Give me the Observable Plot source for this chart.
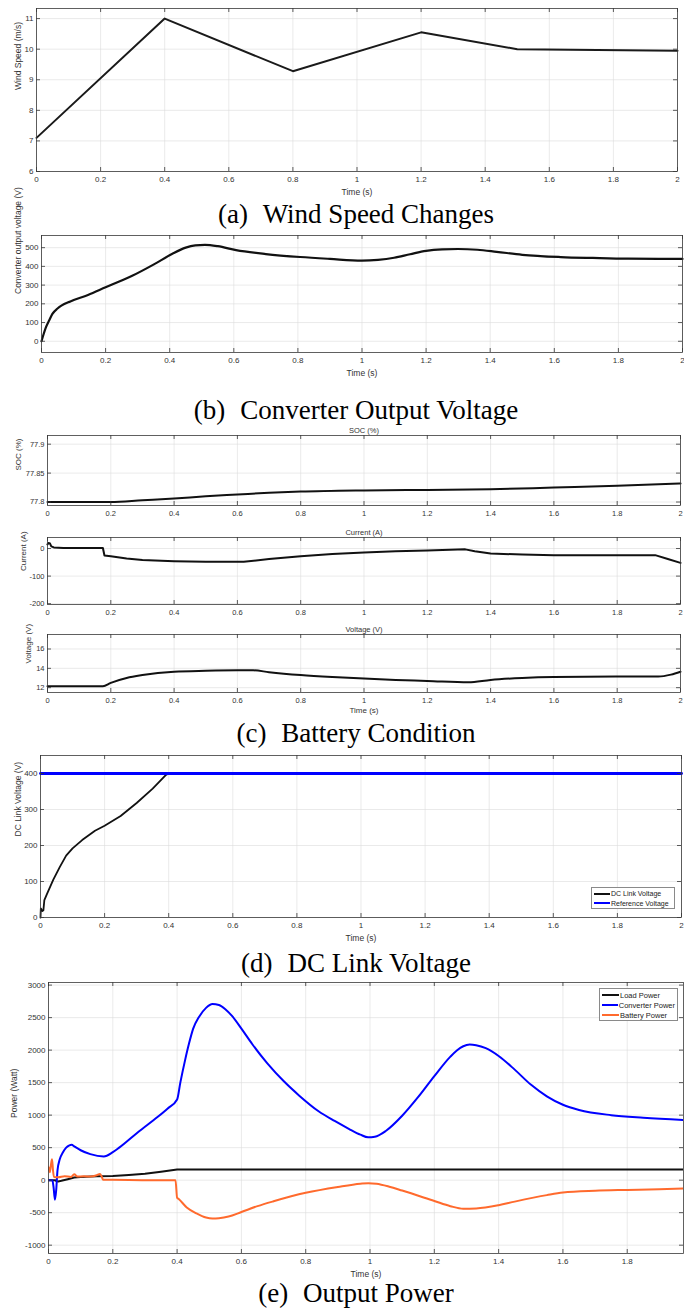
<!DOCTYPE html>
<html>
<head>
<meta charset="utf-8">
<script src="https://cdn.jsdelivr.net/npm/d3@7"></script>
<script src="https://cdn.jsdelivr.net/npm/@observablehq/plot@0.6"></script>
<style>
  body { margin: 0; background: #fff; }
  #page { position: relative; width: 684px; height: 1310px; overflow: hidden; background: #fff; }
  .panel { position: absolute; left: 0; }
  .cap { position: absolute; left: 0; width: 712px; text-align: center; font-family: "Liberation Serif", "Times New Roman", serif; font-size: 27px; line-height: 27px; color: #000; white-space: pre; }
  .cap .tag { display: inline-block; margin-right: 0.55em; }
  .legend { position: absolute; background: #fff; border: 0.8px solid #8a8a8a; font-family: "Liberation Sans", Arial, sans-serif; color: #222; box-sizing: border-box; }
  .legend .row { display: flex; align-items: center; white-space: nowrap; }
</style>
</head>
<body>
<div id="page"></div>
<script>
// ---------------- DATA ----------------
const timeTicks = [0, 0.2, 0.4, 0.6, 0.8, 1, 1.2, 1.4, 1.6, 1.8, 2];
const timeTicksE = [0, 0.2, 0.4, 0.6, 0.8, 1, 1.2, 1.4, 1.6, 1.8];

// (a) Wind speed
const windTime = [0, 0.4, 0.8, 1.2, 1.5, 2.0];
const windSpeed = [7.1, 11.0, 9.28, 10.55, 10.0, 9.95];
const windTicks = [6, 7, 8, 9, 10, 11];

// (b) Converter output voltage
const convTime = [0, 0.007, 0.014, 0.025, 0.034, 0.05, 0.062, 0.09, 0.145, 0.2, 0.25, 0.283, 0.352, 0.407, 0.45, 0.48, 0.51, 0.55, 0.607, 0.7, 0.807, 0.9, 1.0, 1.05, 1.1, 1.15, 1.2, 1.25, 1.3, 1.36, 1.42, 1.5, 1.62, 1.72, 1.83, 2.0];
const convVolt = [0, 40, 75, 115, 146, 175, 190, 213, 247, 288, 325, 350, 412, 466, 500, 512, 515, 508, 487, 466, 450, 440, 431, 435, 446, 465, 483, 491, 493, 489, 478, 462, 450, 445, 441, 440];
const convTicks = [0, 100, 200, 300, 400, 500];

// (c) Battery condition
const socTime = [0, 0.2, 0.3, 0.4, 0.5, 0.6, 0.7, 0.8, 1.0, 1.2, 1.4, 1.6, 1.8, 2.0];
const socValue = [77.8, 77.8, 77.803, 77.806, 77.81, 77.813, 77.816, 77.818, 77.82, 77.821, 77.822, 77.825, 77.828, 77.832];
const socTicks = [77.8, 77.85, 77.9];

const curTime = [0, 0.003, 0.008, 0.012, 0.02, 0.05, 0.1, 0.175, 0.18, 0.2, 0.25, 0.3, 0.4, 0.5, 0.62, 0.7, 0.8, 0.9, 1.0, 1.1, 1.2, 1.32, 1.35, 1.4, 1.5, 1.6, 1.8, 1.92, 1.96, 2.0];
const curValue = [15, 20, 18, 8, 4, 2, 2, 2, -25, -28, -36, -42, -46, -48, -48, -38, -28, -20, -14, -10, -7, -3, -10, -18, -22, -24, -24, -24, -38, -52];
const curTicks = [-200, -100, 0];

const batVTime = [0, 0.175, 0.2, 0.25, 0.3, 0.4, 0.5, 0.6, 0.65, 0.7, 0.8, 0.9, 1.0, 1.1, 1.2, 1.33, 1.4, 1.5, 1.6, 1.8, 1.93, 1.97, 2.0];
const batVValue = [12.15, 12.15, 12.5, 13.0, 13.3, 13.65, 13.75, 13.8, 13.8, 13.6, 13.3, 13.1, 12.95, 12.8, 12.7, 12.55, 12.8, 13.0, 13.1, 13.15, 13.15, 13.35, 13.65];
const batVTicks = [12, 14, 16];

// (d) DC link voltage
const dcTime = [0, 0.001, 0.003, 0.006, 0.009, 0.012, 0.02, 0.04, 0.06, 0.08, 0.1, 0.13, 0.17, 0.2, 0.25, 0.3, 0.35, 0.39, 0.4, 2.0];
const dcValue = [0, 25, 22, 18, 20, 48, 65, 105, 140, 172, 192, 215, 241, 255, 282, 318, 358, 395, 400, 400];
const refTime = [0, 2.0];
const refValue = [400, 400];
const dcTicks = [0, 100, 200, 300, 400];
const dcLegendLabels = ["DC Link Voltage", "Reference Voltage"];
const dcLegendColors = ["#111111", "#0000ff"];

// (e) Output power
const loadTime = [0, 0.02, 0.025, 0.03, 0.04, 0.06, 0.08, 0.1, 0.15, 0.2, 0.25, 0.3, 0.35, 0.4, 2.0];
const loadPower = [0, 0, -15, -20, -10, 15, 40, 50, 60, 65, 80, 100, 130, 165, 165];
const convPTime = [0, 0.012, 0.016, 0.02, 0.024, 0.028, 0.035, 0.045, 0.055, 0.065, 0.072, 0.08, 0.1, 0.13, 0.172, 0.2, 0.22, 0.28, 0.34, 0.37, 0.4, 0.41, 0.425, 0.437, 0.45, 0.468, 0.49, 0.51, 0.53, 0.55, 0.57, 0.6, 0.634, 0.68, 0.732, 0.78, 0.84, 0.89, 0.934, 0.97, 0.994, 1.015, 1.05, 1.1, 1.15, 1.2, 1.25, 1.27, 1.29, 1.31, 1.33, 1.36, 1.4, 1.45, 1.5, 1.55, 1.6, 1.65, 1.75, 1.85, 2.0];
const convPower = [0, 0, -120, -300, -150, 150, 320, 430, 500, 535, 544, 520, 460, 400, 364, 430, 500, 745, 975, 1100, 1240, 1500, 1850, 2100, 2330, 2510, 2650, 2710, 2695, 2630, 2530, 2330, 2090, 1800, 1520, 1300, 1060, 910, 790, 700, 660, 668, 760, 990, 1280, 1600, 1900, 1995, 2060, 2085, 2075, 2030, 1910, 1700, 1470, 1290, 1160, 1080, 1000, 960, 920];
const batPTime = [0, 0.004, 0.008, 0.011, 0.014, 0.017, 0.03, 0.05, 0.07, 0.08, 0.09, 0.11, 0.13, 0.15, 0.16, 0.165, 0.17, 0.2, 0.3, 0.395, 0.4, 0.405, 0.43, 0.46, 0.49, 0.51, 0.53, 0.56, 0.6, 0.65, 0.7, 0.8, 0.9, 0.97, 0.995, 1.02, 1.06, 1.1, 1.2, 1.25, 1.29, 1.33, 1.4, 1.45, 1.55, 1.6, 1.7, 1.8, 1.9, 2.0];
const batPower = [200, 120, 250, 320, 150, 50, 45, 60, 50, 90, 55, 60, 55, 75, 95, 60, 5, 5, 0, 0, -270, -290, -420, -510, -575, -590, -585, -560, -490, -400, -325, -195, -105, -55, -46, -55, -100, -160, -320, -400, -440, -435, -385, -330, -230, -190, -162, -150, -140, -125];
const powerTicks = [-1000, -500, 0, 500, 1000, 1500, 2000, 2500, 3000];
const powerLegendLabels = ["Load Power", "Converter Power", "Battery Power"];
const powerLegendColors = ["#111111", "#0000ff", "#ff6a2d"];

const captions = [
  ["(a)", "Wind Speed Changes", 224],
  ["(b)", "Converter Output Voltage", 420],
  ["(c)", "Battery Condition", 743],
  ["(d)", "DC Link Voltage", 973],
  ["(e)", "Output Power", 1303]
];

// ---------------- HELPERS ----------------
const W = 684;
const page = document.getElementById("page");
const rows = (xs, ys) => xs.map((t, i) => ({t, v: ys[i]}));
const fmt = d => String(d);
const INK = "#333";

function panel(o) {
  const innerW = o.R - o.L, innerH = o.B - o.T;
  const mt = o.T - o.top;
  const fs = o.fontSize || 8;
  const tk = o.tick || 4;
  const marks = [
    Plot.gridX(o.xTicks, {stroke: "#dcdcdc", strokeOpacity: 1, strokeWidth: 0.6}),
    Plot.gridY(o.yTicks, {stroke: "#dcdcdc", strokeOpacity: 1, strokeWidth: 0.6}),
    ...o.marks,
    Plot.ruleX(o.xTicks, {insetTop: innerH - tk, stroke: INK, strokeWidth: 0.8}),
    Plot.ruleX(o.xTicks, {insetBottom: innerH - tk, stroke: INK, strokeWidth: 0.8}),
    Plot.ruleY(o.yTicks, {insetRight: innerW - tk, stroke: INK, strokeWidth: 0.8}),
    Plot.ruleY(o.yTicks, {insetLeft: innerW - tk, stroke: INK, strokeWidth: 0.8}),
    Plot.frame({stroke: "#3a3a3a", strokeWidth: 0.8}),
    Plot.axisX(o.xTicks, {tickSize: 0, tickPadding: 5, tickFormat: fmt, label: null, fill: INK, fontSize: fs}),
    Plot.axisY(o.yTicks, {tickSize: 0, tickPadding: 3, tickFormat: fmt, label: null, fill: INK, fontSize: fs})
  ];
  if (o.xLabel) marks.push(Plot.text([o.xLabel], {text: d => d, frameAnchor: "bottom", dy: o.xLabelDy || 17, lineAnchor: "top", fill: INK, fontSize: fs + 0.5}));
  if (o.yLabel) marks.push(Plot.text([o.yLabel], {text: d => d, frameAnchor: "left", rotate: -90, dx: -o.yLabelDx, fill: INK, fontSize: fs + 0.5}));
  if (o.title) marks.push(Plot.text([o.title], {text: d => d, frameAnchor: "top", dy: -3, lineAnchor: "bottom", fill: INK, fontSize: fs}));
  const svg = Plot.plot({
    width: W,
    height: o.height,
    marginLeft: o.L,
    marginRight: W - o.R,
    marginTop: mt,
    marginBottom: o.height - mt - innerH,
    style: {fontFamily: "'Liberation Sans', Arial, Helvetica, sans-serif", fontSize: fs + "px", background: "transparent", overflow: "visible"},
    x: {domain: o.xDomain, label: null},
    y: {domain: o.yDomain, label: null},
    marks
  });
  svg.classList.add("panel");
  svg.style.top = o.top + "px";
  page.appendChild(svg);
}

function legend(x, y, w, h, labels, colors, fs, swatchW) {
  const div = document.createElement("div");
  div.className = "legend";
  Object.assign(div.style, {left: x + "px", top: y + "px", width: w + "px", height: h + "px", fontSize: fs + "px", padding: "1px 2px"});
  labels.forEach((lab, i) => {
    const r = document.createElement("div");
    r.className = "row";
    r.style.height = ((h - 3) / labels.length) + "px";
    r.innerHTML = `<svg width="${swatchW}" height="4" style="margin-right:1px"><line x1="0" x2="${swatchW}" y1="2" y2="2" stroke="${colors[i]}" stroke-width="2"/></svg><span>${lab}</span>`;
    div.appendChild(r);
  });
  page.appendChild(div);
}

// ---------------- PANELS ----------------
// (a)
panel({
  top: 0, height: 201, L: 36, R: 677, T: 8, B: 171,
  xDomain: [0, 2], yDomain: [6, 11.33], xTicks: timeTicks, yTicks: windTicks,
  xLabel: "Time (s)", yLabel: "Wind Speed (m/s)", yLabelDx: 18,
  marks: [Plot.line(rows(windTime, windSpeed), {x: "t", y: "v", stroke: "#1a1a1a", strokeWidth: 2})]
});

// (b)
panel({
  top: 229, height: 153, L: 41, R: 682, T: 235, B: 352,
  xDomain: [0, 2], yDomain: [-60, 565], xTicks: timeTicks, yTicks: convTicks,
  xLabel: "Time (s)", yLabel: "Converter output voltage (V)", yLabelDx: 23,
  marks: [Plot.line(rows(convTime, convVolt), {x: "t", y: "v", stroke: "#111", strokeWidth: 2.2, curve: "monotone-x"})]
});

// (c) SOC
panel({
  top: 423, height: 98, L: 47, R: 680, T: 435, B: 505,
  xDomain: [0, 2], yDomain: [77.794, 77.915], xTicks: timeTicks, yTicks: socTicks,
  title: "SOC (%)", yLabel: "SOC (%)", yLabelDx: 29, fontSize: 7.5,
  marks: [Plot.line(rows(socTime, socValue), {x: "t", y: "v", stroke: "#111", strokeWidth: 2, curve: "monotone-x"})]
});
// (c) Current
panel({
  top: 525, height: 95, L: 47, R: 680, T: 537, B: 604,
  xDomain: [0, 2], yDomain: [-203, 40], xTicks: timeTicks, yTicks: curTicks,
  title: "Current (A)", yLabel: "Current (A)", yLabelDx: 24, fontSize: 7.5,
  marks: [Plot.line(rows(curTime, curValue), {x: "t", y: "v", stroke: "#111", strokeWidth: 2})]
});
// (c) Voltage
panel({
  top: 622, height: 98, L: 47, R: 680, T: 634, B: 692,
  xDomain: [0, 2], yDomain: [11.5, 17.5], xTicks: timeTicks, yTicks: batVTicks,
  title: "Voltage (V)", xLabel: "Time (s)", xLabelDy: 15, yLabel: "Voltage (V)", yLabelDx: 19, fontSize: 7.5,
  marks: [Plot.line(rows(batVTime, batVValue), {x: "t", y: "v", stroke: "#111", strokeWidth: 2, curve: "monotone-x"})]
});

// (d)
panel({
  top: 750, height: 197, L: 40, R: 681, T: 755, B: 917,
  xDomain: [0, 2], yDomain: [0, 450], xTicks: timeTicks, yTicks: dcTicks,
  xLabel: "Time (s)", yLabel: "DC Link Voltage (V)", yLabelDx: 22,
  marks: [
    Plot.line(rows(dcTime, dcValue), {x: "t", y: "v", stroke: dcLegendColors[0], strokeWidth: 1.8}),
    Plot.line(rows(refTime, refValue), {x: "t", y: "v", stroke: dcLegendColors[1], strokeWidth: 2.8})
  ]
});
legend(591, 887, 84, 22, dcLegendLabels, dcLegendColors, 7, 16);

// (e)
panel({
  top: 976, height: 307, L: 48, R: 683, T: 982, B: 1253,
  xDomain: [0, 1.975], yDomain: [-1128, 3040], xTicks: timeTicksE, yTicks: powerTicks,
  xLabel: "Time (s)", yLabel: "Power (Watt)", yLabelDx: 34, fontSize: 8,
  marks: [
    Plot.line(rows(loadTime, loadPower), {x: "t", y: "v", stroke: powerLegendColors[0], strokeWidth: 2, clip: true}),
    Plot.line(rows(convPTime, convPower), {x: "t", y: "v", stroke: powerLegendColors[1], strokeWidth: 2, curve: "monotone-x", clip: true}),
    Plot.line(rows(batPTime, batPower), {x: "t", y: "v", stroke: powerLegendColors[2], strokeWidth: 2, curve: "monotone-x", clip: true})
  ]
});
legend(599, 988, 79, 33, powerLegendLabels, powerLegendColors, 7.5, 17);

// ---------------- CAPTIONS ----------------
captions.forEach(([tag, text, baseline]) => {
  const d = document.createElement("div");
  d.className = "cap";
  d.style.top = (baseline - 22.6) + "px";
  d.innerHTML = `<span class="tag">${tag}</span>${text}`;
  page.appendChild(d);
});
</script>
</body>
</html>
